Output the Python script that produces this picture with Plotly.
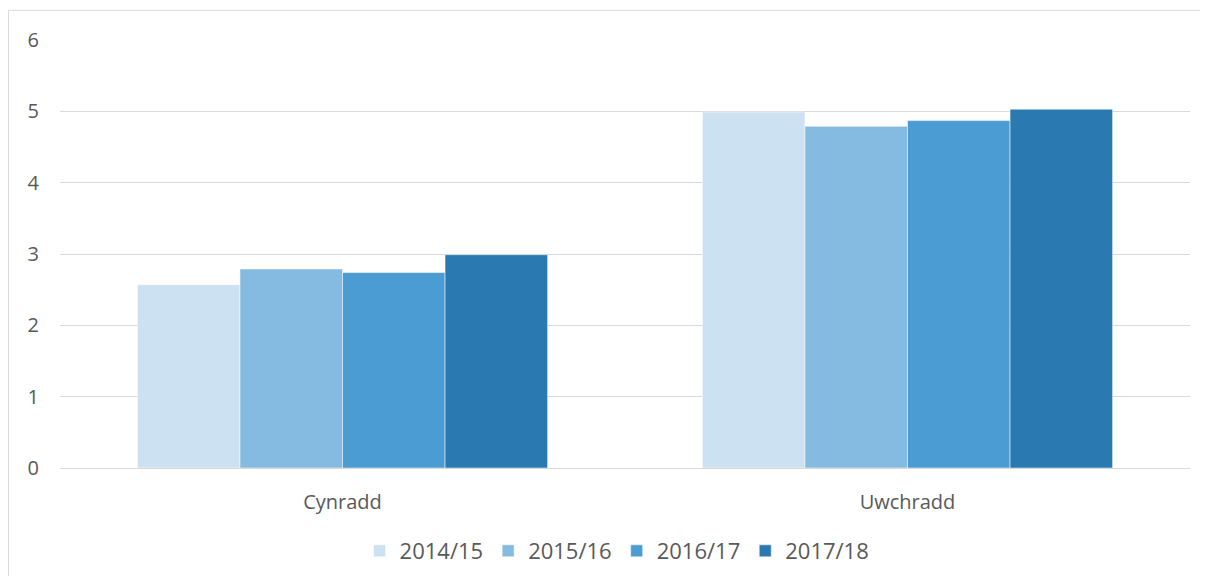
import plotly.graph_objects as go

categories = ["Cynradd", "Uwchradd"]
years = ["2014/15", "2015/16", "2016/17", "2017/18"]
values_2014 = [2.57, 4.99]
values_2015 = [2.79, 4.79]
values_2016 = [2.74, 4.87]
values_2017 = [2.99, 5.03]

series = [values_2014, values_2015, values_2016, values_2017]
colors = ["#cce1f2", "#85bbe1", "#4b9cd3", "#2a79b1"]

fig = go.Figure()
for year, vals, color in zip(years, series, colors):
    fig.add_trace(
        go.Bar(
            x=categories,
            y=vals,
            name=year,
            marker=dict(color=color, line=dict(color="rgba(255,255,255,0.5)", width=1)),
        )
    )

# chart frame: only top and left edges are visible in the window
frame_line = dict(color="#d9d9d9", width=1)

# body has an 8px margin all round, keep the figure inside the window (no scrollbars)
fig.update_layout(
    width=1192,
    height=568,
    barmode="group",
    bargap=0.274,
    bargroupgap=0,
    paper_bgcolor="white",
    plot_bgcolor="white",
    font=dict(family="Open Sans, Liberation Sans, sans-serif", size=20, color="#595959"),
    margin=dict(l=52, r=10, t=32, b=108, autoexpand=False),
    xaxis=dict(
        showgrid=False,
        showline=False,
        ticks="",
        ticklabelstandoff=20,
        tickfont=dict(size=20, color="#595959"),
    ),
    yaxis=dict(
        range=[0, 6],
        dtick=1,
        showgrid=True,
        gridcolor="#d9d9d9",
        gridwidth=1,
        zeroline=True,
        zerolinecolor="#d9d9d9",
        zerolinewidth=1,
        showline=False,
        ticks="",
        ticklabelstandoff=20,
        tickfont=dict(size=20, color="#595959"),
    ),
    legend=dict(
        orientation="h",
        x=0.493,
        xanchor="center",
        y=-0.194,
        yanchor="middle",
        font=dict(size=22, color="#595959"),
        itemwidth=30,
        traceorder="normal",
    ),
    shapes=[
        dict(type="line", xref="paper", yref="paper",
             x0=-0.0456, x1=1.05, y0=1.0693, y1=1.0693, line=frame_line),
        dict(type="line", xref="paper", yref="paper",
             x0=-0.0456, x1=-0.0456, y0=-0.3, y1=1.0693, line=frame_line),
    ],
)

fig.write_html("out.html")
